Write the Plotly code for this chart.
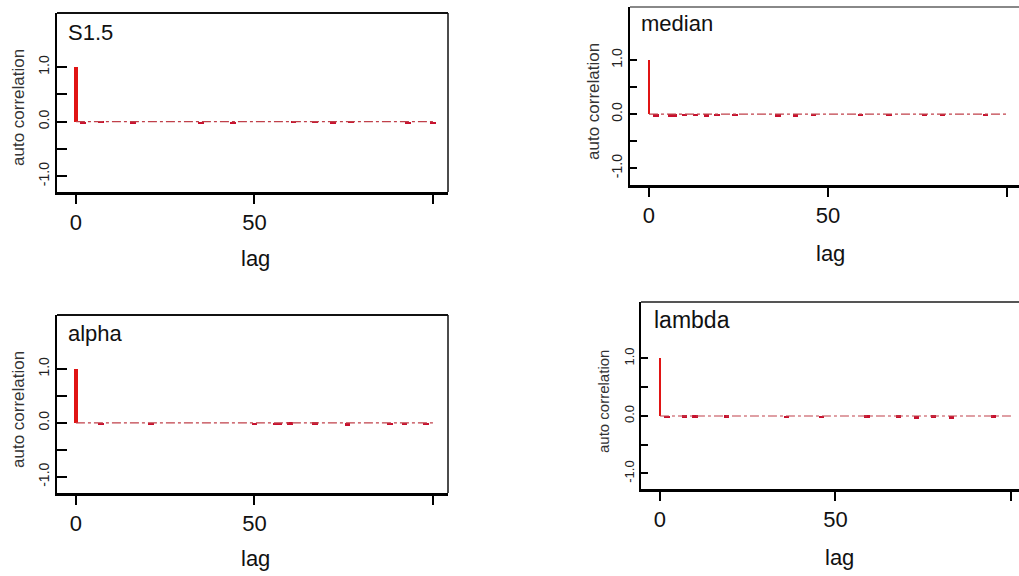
import plotly.graph_objects as go

# ---- data (autocorrelation at selected lags; all other lags ~ 0) ----
max_lag = 100

lags_s15 = [0, 2, 7, 16, 35, 44, 61, 67, 72, 77, 93, 100]
acf_s15 = [1.0, -0.04, -0.03, -0.04, -0.04, -0.05, -0.03, -0.02, -0.04, -0.03, -0.04, -0.04]

lags_median = [0, 2, 6, 7, 10, 13, 16, 19, 24, 36, 41, 46, 59, 67, 77, 82, 94]
acf_median = [1.0, -0.05, -0.05, -0.05, -0.03, -0.03, -0.05, -0.03, -0.04, -0.05, -0.05, -0.04, -0.03, -0.04, -0.03, -0.04, -0.04]

lags_alpha = [0, 7, 21, 50, 56, 57, 60, 67, 76, 88, 92, 98]
acf_alpha = [1.0, -0.04, -0.04, -0.04, -0.04, -0.04, -0.03, -0.03, -0.05, -0.04, -0.04, -0.04]

lags_lambda = [0, 2, 7, 10, 19, 36, 46, 59, 68, 73, 78, 83, 95]
acf_lambda = [1.0, -0.04, -0.03, -0.03, -0.03, -0.04, -0.04, -0.03, -0.03, -0.05, -0.03, -0.05, -0.03]

titles = ["S1.5", "median", "alpha", "lambda"]
x_tick_vals = [0, 50, 100]
x_tick_text = ["0", "50", ""]
y_tick_vals = [-1.0, -0.5, 0.0, 0.5, 1.0]
y_tick_text = ["-1.0", "", "0.0", "", "1.0"]

W, H = 1019, 576
FONT = "Liberation Sans, Arial, Helvetica, sans-serif"
BAR = "#e01414"
NEG = "#c8102e"
ZERO = "#c0404a"

def px(x):
    return x / W

def py(y):
    return 1 - y / H

panels = [
    dict(lags=lags_s15, acf=acf_s15, title=titles[0],
         l=57, r=448, t=13, b=192, xr=[-5.3, 104.2], yr=[-1.29, 1.99], bw=1.1,
         tpos=(66, 32), tsize=22, ylab=(18, 108), ylsize=17, lagpos=(256, 258),
         ytsize=14, yticklen=10, right_line=True, top_col="#111"),
    dict(lags=lags_median, acf=acf_median, title=titles[1],
         l=630, r=1019, t=7, b=185, xr=[-5.3, 103.35], yr=[-1.31, 1.98], bw=0.65,
         tpos=(639, 23), tsize=22, ylab=(593, 102), ylsize=17, lagpos=(830, 253),
         ytsize=14, yticklen=7, right_line=False, top_col="#888"),
    dict(lags=lags_alpha, acf=acf_alpha, title=titles[2],
         l=57, r=448, t=315, b=493, xr=[-5.3, 104.2], yr=[-1.30, 2.0], bw=0.95,
         tpos=(66, 333), tsize=22, ylab=(18, 410), ylsize=17, lagpos=(256, 558),
         ytsize=14, yticklen=10, right_line=True, top_col="#111"),
    dict(lags=lags_lambda, acf=acf_lambda, title=titles[3],
         l=641, r=1019, t=302, b=489, xr=[-5.4, 102.3], yr=[-1.27, 1.98], bw=0.75,
         tpos=(652, 320), tsize=23, ylab=(603, 402), ylsize=15, lagpos=(839, 557),
         ytsize=13, yticklen=7, right_line=False, top_col="#555"),
]

fig = go.Figure()
annotations = []
shapes = []
layout = {}

for i, p in enumerate(panels, start=1):
    xa = "x" if i == 1 else f"x{i}"
    ya = "y" if i == 1 else f"y{i}"
    fig.add_trace(go.Scatter(x=[0, max_lag], y=[0, 0], mode="lines",
                             line=dict(color=ZERO, width=1.1, dash="dashdot"),
                             xaxis=xa, yaxis=ya, showlegend=False, hoverinfo="skip"))
    n = len(p["lags"])
    widths = [p["bw"]] + [1.5] * (n - 1)
    colors = [BAR] + [NEG] * (n - 1)
    fig.add_trace(go.Bar(x=p["lags"], y=p["acf"], width=widths,
                         marker=dict(color=colors, line=dict(width=0)),
                         xaxis=xa, yaxis=ya, showlegend=False))

    layout["xaxis" if i == 1 else f"xaxis{i}"] = dict(
        domain=[px(p["l"]), px(p["r"])], range=p["xr"], anchor=ya,
        showline=True, linecolor="#000", linewidth=3, mirror=False,
        showgrid=False, zeroline=False,
        ticks="outside", ticklen=9, tickwidth=2, tickcolor="#000",
        tickvals=x_tick_vals, ticktext=x_tick_text, ticklabelstandoff=0,
        tickfont=dict(family=FONT, size=22, color="#111"),
    )
    layout["yaxis" if i == 1 else f"yaxis{i}"] = dict(
        domain=[py(p["b"]), py(p["t"])], range=p["yr"], anchor=xa,
        showline=True, linecolor="#000", linewidth=2, mirror=False,
        showgrid=False, zeroline=False,
        ticks="inside", ticklen=p["yticklen"], tickwidth=2, tickcolor="#000",
        tickvals=y_tick_vals, ticktext=y_tick_text, tickangle=-90,
        tickfont=dict(family=FONT, size=p["ytsize"], color="#222"),
    )
    shapes.append(dict(type="line", xref=f"{xa} domain", yref=f"{ya} domain",
                       x0=0, x1=1, y0=1, y1=1,
                       line=dict(color=p["top_col"], width=2)))
    if p["right_line"]:
        shapes.append(dict(type="line", xref=f"{xa} domain", yref=f"{ya} domain",
                           x0=1, x1=1, y0=0, y1=1,
                           line=dict(color="#111", width=1.5)))
    annotations.append(dict(text=p["title"], xref="paper", yref="paper",
                            x=px(p["tpos"][0]), y=py(p["tpos"][1]),
                            xanchor="left", yanchor="middle", showarrow=False,
                            font=dict(family=FONT, size=p["tsize"], color="#111")))
    annotations.append(dict(text="auto correlation", xref="paper", yref="paper",
                            x=px(p["ylab"][0]), y=py(p["ylab"][1]),
                            xanchor="center", yanchor="middle", textangle=-90,
                            showarrow=False,
                            font=dict(family=FONT, size=p["ylsize"], color="#333")))
    annotations.append(dict(text="lag", xref="paper", yref="paper",
                            x=px(p["lagpos"][0]), y=py(p["lagpos"][1]),
                            xanchor="center", yanchor="middle", showarrow=False,
                            font=dict(family=FONT, size=22, color="#111")))

fig.update_layout(
    width=W, height=H,
    margin=dict(l=0, r=0, t=0, b=0),
    paper_bgcolor="white", plot_bgcolor="white",
    bargap=0, showlegend=False,
    annotations=annotations, shapes=shapes,
    **layout,
)

fig.write_html("out.html",
               config={"displayModeBar": False},
               post_script="document.body.style.margin='0';document.body.style.overflow='hidden';")
